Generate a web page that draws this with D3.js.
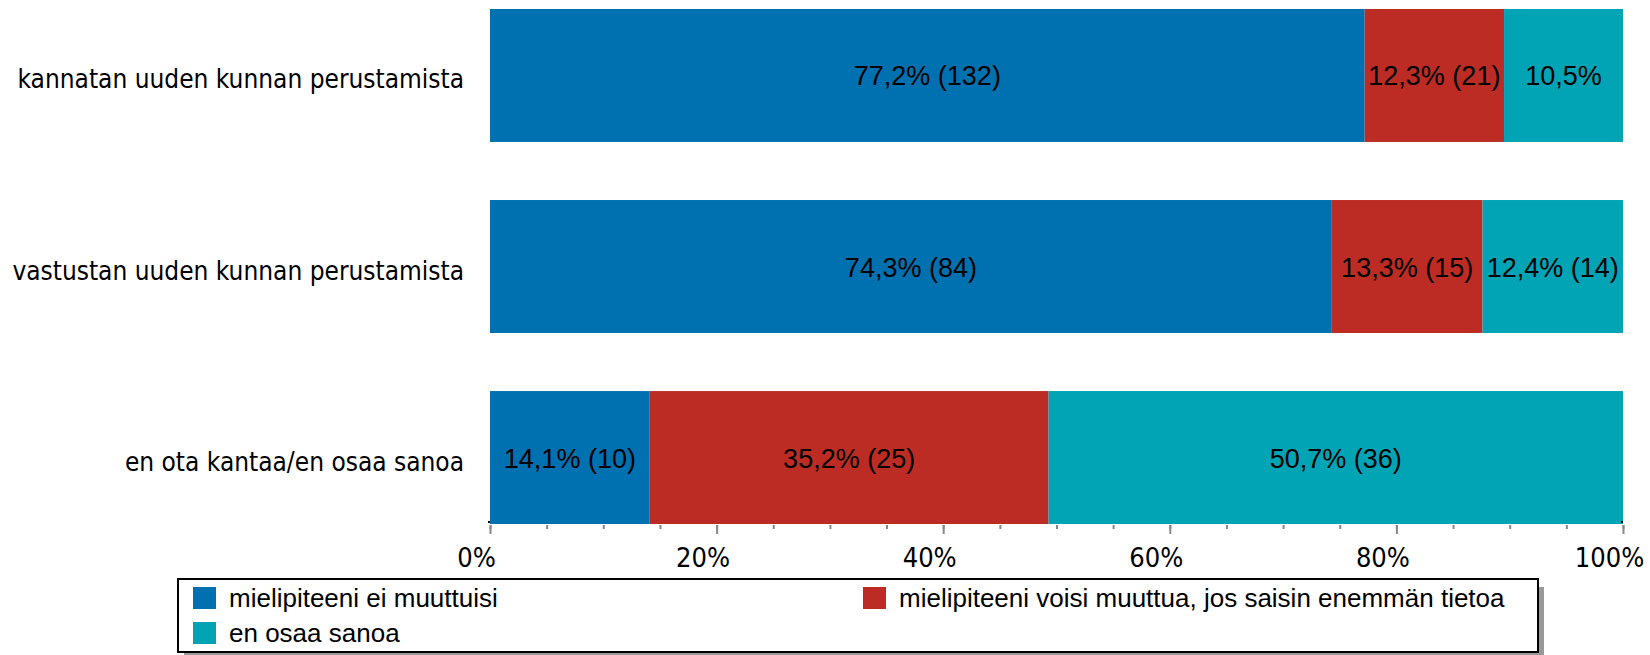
<!DOCTYPE html>
<html>
<head>
<meta charset="utf-8">
<script src="https://cdn.jsdelivr.net/npm/d3@7/dist/d3.min.js"></script>
<style>
  html, body { margin: 0; padding: 0; background: #fff; }
  svg { display: block; }
</style>
</head>
<body>
<svg id="chart" width="1650" height="655"></svg>
<script>
// ---- data ----
const categories = [
  "kannatan uuden kunnan perustamista",
  "vastustan uuden kunnan perustamista",
  "en ota kantaa/en osaa sanoa"
];
const seriesNames = [
  "mielipiteeni ei muuttuisi",
  "mielipiteeni voisi muuttua, jos saisin enemmän tietoa",
  "en osaa sanoa"
];
const seriesColors = ["#0071b0", "#bc2c25", "#00a4b4"];
// percentages per category (in series order)
const pctNoChange = [77.2, 74.3, 14.1];
const pctCouldChange = [12.3, 13.3, 35.2];
const pctDontKnow = [10.5, 12.4, 50.7];
// counts per category (null = count not shown)
const cntNoChange = [132, 84, 10];
const cntCouldChange = [21, 15, 25];
const cntDontKnow = [null, 14, 36];
const tickValues = [0, 20, 40, 60, 80, 100];
const minorTickValues = d3.range(0, 101, 5);

// ---- build table ----
const pcts = [pctNoChange, pctCouldChange, pctDontKnow];
const cnts = [cntNoChange, cntCouldChange, cntDontKnow];
const rows = categories.map((c, i) => {
  let acc = 0;
  return {
    cat: c,
    segs: seriesNames.map((s, k) => {
      const v = pcts[k][i];
      const seg = { k, x0: acc, x1: acc + v, v, n: cnts[k][i] };
      acc += v;
      return seg;
    })
  };
});

const svg = d3.select("#chart");
const x = d3.scaleLinear().domain([0, 100]).range([490, 1623]);
const y = d3.scaleBand().domain(categories).range([9, 524]).paddingInner(0.304).paddingOuter(0);

const catFont = "'DejaVu Sans Condensed', 'DejaVu Sans', Tahoma, sans-serif";
const arialFont = "'Liberation Sans', Arial, sans-serif";

// bars
const g = svg.append("g");
const rowG = g.selectAll("g.row").data(rows).join("g").attr("class", "row");
rowG.selectAll("rect").data(d => d.segs.map(s => ({ ...s, cat: d.cat })))
  .join("rect")
  .attr("x", d => x(d.x0))
  .attr("y", d => y(d.cat))
  .attr("width", d => x(d.x1) - x(d.x0))
  .attr("height", y.bandwidth())
  .attr("fill", d => seriesColors[d.k]);

const fmt = v => v.toFixed(1).replace(".", ",") + "%";
rowG.selectAll("text").data(d => d.segs.map(s => ({ ...s, cat: d.cat })))
  .join("text")
  .attr("x", d => (x(d.x0) + x(d.x1)) / 2)
  .attr("y", d => y(d.cat) + y.bandwidth() / 2 + 1)
  .attr("text-anchor", "middle")
  .attr("dominant-baseline", "central")
  .attr("font-family", arialFont)
  .attr("font-size", 27)
  .attr("fill", "#000")
  .text(d => fmt(d.v) + (d.n != null ? " (" + d.n + ")" : ""));

// category labels
svg.append("g").selectAll("text").data(categories).join("text")
  .attr("x", 464)
  .attr("y", d => y(d) + y.bandwidth() / 2 + 4)
  .attr("text-anchor", "end")
  .attr("dominant-baseline", "central")
  .attr("font-family", catFont)
  .attr("font-size", 26)
  .attr("fill", "#000")
  .text(d => d);

// x axis ticks
const axisY = 525;
const axisMinor = d3.axisBottom(x).tickValues(minorTickValues).tickSize(4).tickFormat("");
const axisMajor = d3.axisBottom(x).tickValues(tickValues).tickSize(9).tickFormat(d => d + "%");
const gMinor = svg.append("g").attr("transform", `translate(0,${axisY})`).call(axisMinor);
const gMajor = svg.append("g").attr("transform", `translate(0,${axisY})`).call(axisMajor);
[gMinor, gMajor].forEach(ga => {
  ga.select(".domain").remove();
  ga.selectAll(".tick line").attr("stroke", "#888").attr("stroke-width", 2);
});
gMajor.selectAll(".tick text")
  .attr("font-family", catFont)
  .attr("font-size", 27)
  .attr("fill", "#000")
  .attr("dy", 0)
  .attr("y", 42)
  .attr("dx", -14);

// tiny axis end dots
svg.append("g").selectAll("rect").data([0, 100]).join("rect")
  .attr("x", d => x(d) - 2).attr("y", 521).attr("width", 2).attr("height", 2).attr("fill", "#000");

// legend
const lg = svg.append("g");
lg.append("rect").attr("x", 184).attr("y", 587).attr("width", 1360).attr("height", 72).attr("fill", "#999");
lg.append("rect").attr("x", 178).attr("y", 579).attr("width", 1360).attr("height", 73)
  .attr("fill", "#fff").attr("stroke", "#000").attr("stroke-width", 2);
const legendPos = [
  { k: 0, sx: 193, sy: 587 },
  { k: 1, sx: 863, sy: 587 },
  { k: 2, sx: 193, sy: 622 }
];
const li = lg.selectAll("g.item").data(legendPos).join("g").attr("class", "item");
li.append("rect").attr("x", d => d.sx).attr("y", d => d.sy).attr("width", 23).attr("height", 22)
  .attr("fill", d => seriesColors[d.k]);
li.append("text").attr("x", d => d.sx + 36).attr("y", d => d.sy + 20)
  .attr("font-family", arialFont).attr("font-size", 26).attr("fill", "#000")
  .text(d => seriesNames[d.k]);
</script>
</body>
</html>
